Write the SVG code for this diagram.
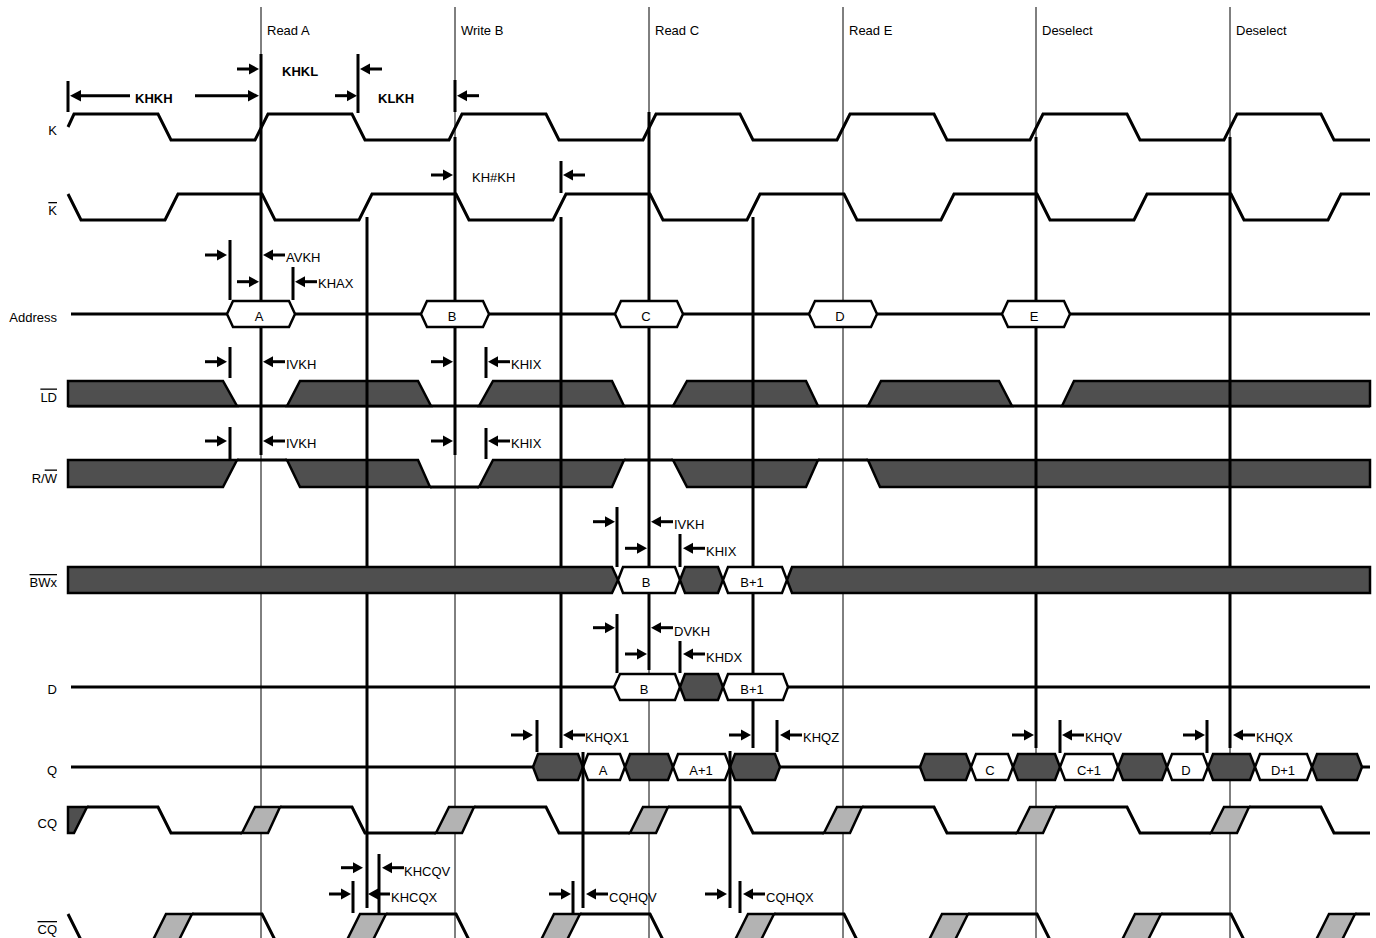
<svg xmlns="http://www.w3.org/2000/svg" xmlns:xlink="http://www.w3.org/1999/xlink" width="1376" height="938" viewBox="0 0 1376 938">
<style>
text{font-family:"Liberation Sans",Arial,sans-serif;font-size:13px;fill:#000}
.b{font-weight:bold}
.ol{text-decoration:overline}
.thin{stroke:#000;stroke-width:1;fill:none}
.tk{stroke:#000;stroke-width:3;fill:none}
.sig{stroke:#000;stroke-width:3;fill:none;stroke-linejoin:miter}
.dk{fill:#4f4f4f;stroke:#000;stroke-width:2.5;stroke-linejoin:miter}
.lt{fill:#b3b3b3;stroke:#000;stroke-width:2.5;stroke-linejoin:miter}
.wh{fill:#fff;stroke:#000;stroke-width:2.5;stroke-linejoin:miter}
.mid{text-anchor:middle}
.end{text-anchor:end}
</style>
<defs>
<g id="ar"><line x1="-22" y1="0" x2="-7" y2="0" stroke="#000" stroke-width="3"/><polygon points="0,0 -10,-5.5 -10,5.5" fill="#000"/></g>
<g id="al"><line x1="22" y1="0" x2="7" y2="0" stroke="#000" stroke-width="3"/><polygon points="0,0 10,-5.5 10,5.5" fill="#000"/></g>
</defs>
<rect width="1376" height="938" fill="#fff"/>

<g id="cycles">
<path class="thin" d="M261,7V938M455,7V938M649,7V938M843,7V938M1036,7V938M1230,7V938"/>
<text x="267" y="35">Read A</text>
<text x="461" y="35">Write B</text>
<text x="655" y="35">Read C</text>
<text x="849" y="35">Read E</text>
<text x="1042" y="35">Deselect</text>
<text x="1236" y="35">Deselect</text>
</g>

<g id="labels">
<text class="end" x="57" y="135">K</text>
<text class="end ol" x="57" y="215">K</text>
<text class="end" x="57" y="321.5">Address</text>
<text class="end ol" x="57" y="401.5">LD</text>
<text class="end" x="57" y="482.5">R/<tspan class="ol">W</tspan></text>
<text class="end ol" x="57" y="587">BWx</text>
<text class="end" x="57" y="694">D</text>
<text class="end" x="57" y="775">Q</text>
<text class="end" x="57" y="828">CQ</text>
<text class="end ol" x="57" y="934">CQ</text>
</g>

<g id="sig-K">
<path class="sig" d="M68,127L74,114L158,114L171,140L255,140L268,114L352,114L365,140L449,140L462,114L546,114L559,140L643,140L656,114L740,114L753,140L837,140L850,114L934,114L947,140L1030,140L1043,114L1127,114L1140,140L1224,140L1237,114L1321,114L1334,140L1370,140"/>
</g>

<g id="sig-Kbar">
<path class="sig" d="M68,194L81,220L165,220L178,194L262,194L275,220L359,220L372,194L456,194L469,220L553,220L566,194L650,194L663,220L747,220L760,194L844,194L857,220L941,220L954,194L1037,194L1050,220L1134,220L1147,194L1231,194L1244,220L1328,220L1341,194L1370,194"/>
</g>

<g id="sig-LD">
<path class="sig" d="M68,406H1370"/>
<path class="dk" d="M68,381L223,381L237,406L68,406Z"/>
<path class="dk" d="M287,406L300,381L418,381L431,406Z"/>
<path class="dk" d="M479,406L493,381L612,381L624,406Z"/>
<path class="dk" d="M673,406L687,381L806,381L818,406Z"/>
<path class="dk" d="M868,406L881,381L999,381L1012,406Z"/>
<path class="dk" d="M1062,406L1074,381L1370,381L1370,406Z"/>
</g>

<g id="sig-RW">
<path class="sig" d="M237,460H287M430,487H479M624,460H673M818,460H868"/>
<path class="dk" d="M68,460L237,460L223,487L68,487Z"/>
<path class="dk" d="M287,460L418,460L430,487L300,487Z"/>
<path class="dk" d="M479,487L493,460L624,460L612,487Z"/>
<path class="dk" d="M673,460L818,460L806,487L687,487Z"/>
<path class="dk" d="M868,460L1370,460L1370,487L880,487Z"/>
</g>

<g id="sig-Q">
<path class="sig" d="M71,767H1370"/>
<path class="dk" d="M533,767L538,754L578,754L583,767L578,780L538,780Z"/>
<path class="wh" d="M583,767L588,754L620,754L625,767L620,780L588,780Z"/>
<path class="dk" d="M625,767L630,754L668,754L673,767L668,780L630,780Z"/>
<path class="wh" d="M673,767L678,754L725,754L730,767L725,780L678,780Z"/>
<path class="dk" d="M730,767L735,754L775,754L780,767L775,780L735,780Z"/>
<path class="dk" d="M920,767L925,754L966,754L971,767L966,780L925,780Z"/>
<path class="wh" d="M971,767L976,754L1008,754L1013,767L1008,780L976,780Z"/>
<path class="dk" d="M1013,767L1018,754L1055,754L1060,767L1055,780L1018,780Z"/>
<path class="wh" d="M1060,767L1065,754L1113,754L1118,767L1113,780L1065,780Z"/>
<path class="dk" d="M1118,767L1123,754L1162,754L1167,767L1162,780L1123,780Z"/>
<path class="wh" d="M1167,767L1172,754L1203,754L1208,767L1203,780L1172,780Z"/>
<path class="dk" d="M1208,767L1213,754L1250,754L1255,767L1250,780L1213,780Z"/>
<path class="wh" d="M1255,767L1260,754L1307,754L1312,767L1307,780L1260,780Z"/>
<path class="dk" d="M1312,767L1317,754L1357,754L1362,767L1357,780L1317,780Z"/>
<text class="mid" x="603" y="775">A</text>
<text class="mid" x="701" y="775">A+1</text>
<text class="mid" x="990" y="775">C</text>
<text class="mid" x="1089" y="775">C+1</text>
<text class="mid" x="1186" y="775">D</text>
<text class="mid" x="1283" y="775">D+1</text>
</g>

<g id="sig-CQ">
<path class="dk" d="M68,807L87,807L74,833L68,833Z"/>
<path class="sig" d="M87,807L158,807L171,833L242,833M280,807L352,807L365,833L436,833M474,807L546,807L559,833L630,833M668,807L740,807L753,833L824,833M862,807L934,807L947,833L1017,833M1055,807L1127,807L1140,833L1211,833M1249,807L1321,807L1334,833L1370,833"/>
<path class="lt" d="M242,833L255,807L280,807L268,833Z"/>
<path class="lt" d="M436,833L449,807L474,807L462,833Z"/>
<path class="lt" d="M630,833L643,807L668,807L656,833Z"/>
<path class="lt" d="M824,833L837,807L862,807L850,833Z"/>
<path class="lt" d="M1017,833L1030,807L1055,807L1043,833Z"/>
<path class="lt" d="M1211,833L1224,807L1249,807L1237,833Z"/>
</g>

<g id="sig-CQbar">
<path class="sig" d="M68,914L81,940M192,914L262,914L275,940M386,914L456,914L469,940M580,914L650,914L663,940M774,914L844,914L857,940M968,914L1037,914L1050,940M1161,914L1231,914L1244,940M1355,914L1370,914"/>
<path class="lt" d="M153,940L166,914L192,914L179,940Z"/>
<path class="lt" d="M347,940L360,914L386,914L373,940Z"/>
<path class="lt" d="M541,940L554,914L580,914L567,940Z"/>
<path class="lt" d="M735,940L748,914L774,914L761,940Z"/>
<path class="lt" d="M929,940L942,914L968,914L955,940Z"/>
<path class="lt" d="M1122,940L1135,914L1161,914L1148,940Z"/>
<path class="lt" d="M1316,940L1329,914L1355,914L1342,940Z"/>
</g>

<g id="connectors">
<path class="tk" d="M261,54V455M358,54V113M68,81V112M455,80V112M455,137V455M561,161V193M561,217V748M367,217V908M649,112V670M753,217V748M1036,137V748M1230,137V748"/>
<path class="tk" d="M230,240V300M293,267V300M230,347V378M230,427V460M486,347V378M486,428V459M617,507V567M680,534V567M617,614V673M680,641V673M537,720V752M777,720V752M1060,720V753M1207,720V753M379,854V913M353,881V913M583,752V908M573,881V913M730,751V908M740,881V913"/>
<line x1="80" y1="95.7" x2="130" y2="95.7" stroke="#000" stroke-width="3"/>
<polygon points="70,95.7 81,90 81,101.4" fill="#000"/>
<line x1="195" y1="95.7" x2="250" y2="95.7" stroke="#000" stroke-width="3"/>
<polygon points="259,95.7 248,90 248,101.4" fill="#000"/>
<use xlink:href="#ar" x="259" y="69"/>
<use xlink:href="#al" x="360" y="69"/>
<use xlink:href="#ar" x="357" y="95.7"/>
<use xlink:href="#al" x="457" y="95.7"/>
<use xlink:href="#ar" x="453" y="175"/>
<use xlink:href="#al" x="563" y="175"/>
<use xlink:href="#ar" x="227" y="255"/>
<use xlink:href="#al" x="263" y="255"/>
<use xlink:href="#ar" x="259" y="281.7"/>
<use xlink:href="#al" x="295" y="281.7"/>
<use xlink:href="#ar" x="227" y="361.7"/>
<use xlink:href="#al" x="263" y="361.7"/>
<use xlink:href="#ar" x="453" y="361.7"/>
<use xlink:href="#al" x="488" y="361.7"/>
<use xlink:href="#ar" x="227" y="441"/>
<use xlink:href="#al" x="263" y="441"/>
<use xlink:href="#ar" x="453" y="441"/>
<use xlink:href="#al" x="488" y="441"/>
<use xlink:href="#ar" x="615" y="521.7"/>
<use xlink:href="#al" x="651" y="521.7"/>
<use xlink:href="#ar" x="647" y="548.3"/>
<use xlink:href="#al" x="683" y="548.3"/>
<use xlink:href="#ar" x="615" y="627.7"/>
<use xlink:href="#al" x="651" y="627.7"/>
<use xlink:href="#ar" x="647" y="654"/>
<use xlink:href="#al" x="683" y="654"/>
<use xlink:href="#ar" x="533" y="735"/>
<use xlink:href="#al" x="563" y="735"/>
<use xlink:href="#ar" x="751" y="735"/>
<use xlink:href="#al" x="780" y="735"/>
<use xlink:href="#ar" x="1034" y="735"/>
<use xlink:href="#al" x="1062" y="735"/>
<use xlink:href="#ar" x="1205" y="735"/>
<use xlink:href="#al" x="1233" y="735"/>
<use xlink:href="#ar" x="363" y="867.7"/>
<use xlink:href="#al" x="382" y="867.7"/>
<use xlink:href="#ar" x="351" y="894"/>
<use xlink:href="#al" x="368" y="894"/>
<use xlink:href="#ar" x="571" y="894"/>
<use xlink:href="#al" x="586" y="894"/>
<use xlink:href="#ar" x="727" y="894"/>
<use xlink:href="#al" x="743" y="894"/>
<text class="b" x="135" y="103">KHKH</text>
<text class="b" x="282" y="76">KHKL</text>
<text class="b" x="378" y="103">KLKH</text>
<text x="472" y="182">KH#KH</text>
<text x="286" y="261.5">AVKH</text>
<text x="318" y="288">KHAX</text>
<text x="286" y="369">IVKH</text>
<text x="511" y="369">KHIX</text>
<text x="286" y="448">IVKH</text>
<text x="511" y="448">KHIX</text>
<text x="674" y="529">IVKH</text>
<text x="706" y="556">KHIX</text>
<text x="674" y="636">DVKH</text>
<text x="706" y="662">KHDX</text>
<text x="585" y="742">KHQX1</text>
<text x="803" y="742">KHQZ</text>
<text x="1085" y="742">KHQV</text>
<text x="1256" y="742">KHQX</text>
<text x="404" y="876">KHCQV</text>
<text x="391" y="902">KHCQX</text>
<text x="609" y="902">CQHQV</text>
<text x="766" y="902">CQHQX</text>
</g>

<g id="sig-Address">
<path class="sig" d="M71,314H227M295,314H421M489,314H615M683,314H809M877,314H1002M1070,314H1370"/>
<path class="wh" d="M227,314L233,301L289,301L295,314L289,327L233,327Z"/>
<path class="wh" d="M421,314L427,301L483,301L489,314L483,327L427,327Z"/>
<path class="wh" d="M615,314L621,301L677,301L683,314L677,327L621,327Z"/>
<path class="wh" d="M809,314L815,301L871,301L877,314L871,327L815,327Z"/>
<path class="wh" d="M1002,314L1008,301L1064,301L1070,314L1064,327L1008,327Z"/>
<text class="mid" x="259" y="321">A</text>
<text class="mid" x="452" y="321">B</text>
<text class="mid" x="646" y="321">C</text>
<text class="mid" x="840" y="321">D</text>
<text class="mid" x="1034" y="321">E</text>
</g>

<g id="sig-BWx">
<path class="dk" d="M68,567L612,567L618,580L612,593L68,593Z"/>
<path class="wh" d="M618,580L623,567L675,567L680,580L675,593L623,593Z"/>
<path class="dk" d="M680,580L685,567L718,567L723,580L718,593L685,593Z"/>
<path class="wh" d="M723,580L728,567L782,567L787,580L782,593L728,593Z"/>
<path class="dk" d="M787,580L792,567L1370,567L1370,593L792,593Z"/>
<text class="mid" x="646" y="587">B</text>
<text class="mid" x="752" y="587">B+1</text>
</g>

<g id="sig-D">
<path class="sig" d="M71,687H614M788,687H1370"/>
<path class="wh" d="M614,687L620,674L675,674L680,687L675,700L620,700Z"/>
<path class="dk" d="M680,687L685,674L718,674L723,687L718,700L685,700Z"/>
<path class="wh" d="M723,687L728,674L783,674L788,687L783,700L728,700Z"/>
<text class="mid" x="644" y="694">B</text>
<text class="mid" x="752" y="694">B+1</text>
</g>
</svg>
